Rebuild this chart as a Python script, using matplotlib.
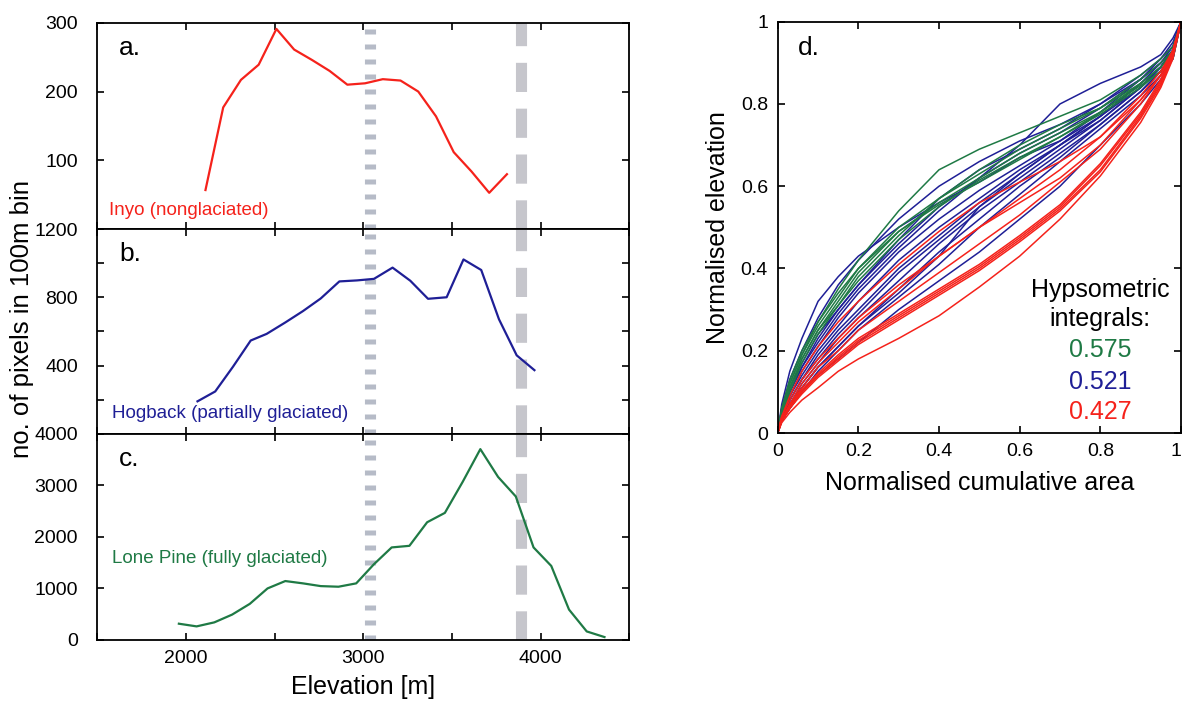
import matplotlib
matplotlib.use("Agg")
import matplotlib.pyplot as plt

plt.rcParams['font.family'] = ['Liberation Sans', 'DejaVu Sans']
plt.rcParams['lines.scale_dashes'] = False

# ---------------- elevation histograms (pixels per 100 m bin) ----------------
inyo_elev = [2110, 2210, 2310, 2410, 2510, 2610, 2710, 2810, 2910, 3010,
             3110, 3210, 3310, 3410, 3510, 3610, 3710, 3810]
inyo_count = [57, 177, 217, 239, 291, 261, 246, 230, 210, 212,
              218, 216, 200, 164, 112, 84, 53, 80]

hogback_elev = [2065, 2165, 2265, 2365, 2455, 2560, 2660, 2760, 2865, 2965,
                3060, 3165, 3265, 3365, 3470, 3565, 3665, 3765, 3865, 3965]
hogback_count = [190, 248, 393, 547, 586, 653, 720, 794, 894, 900,
                 909, 975, 898, 792, 801, 1023, 961, 672, 460, 373]

lonepine_elev = [1960, 2060, 2160, 2260, 2360, 2460, 2560, 2660, 2760, 2860,
                 2960, 3060, 3160, 3260, 3360, 3460, 3560, 3660, 3760, 3860,
                 3960, 4060, 4160, 4260, 4360]
lonepine_count = [316, 264, 342, 492, 701, 1000, 1143, 1098, 1045, 1033,
                  1098, 1469, 1795, 1826, 2283, 2465, 3064, 3701, 3162, 2783,
                  1795, 1436, 590, 166, 57]

# elevations marked by the dashed bands
band_fine = 3035
band_coarse = 3888

# ---------------- hypsometric curves ----------------
hyps_area = [0, .01, .03, .06, .1, .15, .2, .3, .4, .5, .6, .7, .8, .9, .95, .98, 1]

green_curves = [
    [0, .06, .13, .20, .27, .35, .42, .54, .64, .69, .73, .77, .81, .87, .91, .94, 1],
    [0, .05, .12, .19, .26, .33, .40, .50, .57, .63, .69, .74, .79, .86, .90, .93, 1],
    [0, .05, .11, .18, .25, .32, .39, .49, .56, .62, .68, .73, .78, .85, .89, .92, 1],
    [0, .06, .12, .19, .27, .34, .40, .49, .555, .61, .665, .72, .78, .845, .88, .91, 1],
    [0, .04, .10, .17, .24, .31, .37, .47, .55, .615, .67, .72, .775, .84, .88, .92, 1],
    [0, .05, .11, .18, .25, .31, .38, .48, .57, .64, .70, .75, .79, .85, .89, .93, 1],
]
blue_curves = [
    [0, .07, .15, .23, .32, .38, .43, .50, .56, .61, .67, .71, .78, .86, .91, .95, 1],
    [0, .05, .10, .16, .22, .29, .35, .45, .54, .62, .70, .80, .85, .89, .92, .96, 1],
    [0, .06, .13, .20, .28, .36, .42, .52, .60, .66, .71, .75, .80, .87, .91, .94, 1],
    [0, .05, .11, .17, .24, .30, .36, .46, .55, .62, .68, .73, .79, .86, .90, .94, 1],
    [0, .04, .09, .15, .21, .28, .34, .44, .52, .59, .65, .71, .77, .85, .90, .93, 1],
    [0, .04, .09, .14, .20, .26, .32, .42, .50, .57, .64, .70, .77, .85, .89, .93, 1],
    [0, .04, .08, .13, .19, .25, .30, .40, .48, .56, .63, .70, .77, .84, .89, .93, 1],
    [0, .03, .08, .13, .18, .24, .29, .39, .47, .55, .62, .69, .76, .84, .89, .93, 1],
    [0, .03, .07, .12, .17, .23, .28, .37, .46, .54, .61, .68, .75, .83, .88, .92, 1],
    [0, .03, .07, .11, .16, .21, .26, .35, .44, .52, .60, .67, .75, .83, .88, .92, 1],
    [0, .03, .06, .10, .15, .20, .25, .33, .41, .50, .58, .66, .74, .82, .87, .91, 1],
    [0, .03, .06, .10, .14, .18, .22, .30, .37, .44, .52, .60, .70, .80, .86, .91, 1],
    [0, .03, .07, .11, .16, .21, .26, .34, .43, .55, .63, .70, .76, .84, .89, .93, 1],
    [0, .05, .10, .16, .23, .30, .36, .47, .57, .64, .69, .74, .80, .86, .90, .93, 1],
]
red_curves = [
    [0, .025, .05, .08, .11, .15, .18, .23, .285, .355, .43, .52, .625, .755, .84, .91, 1],
    [0, .03, .06, .10, .14, .18, .22, .28, .34, .40, .47, .545, .64, .77, .85, .92, 1],
    [0, .03, .06, .10, .14, .185, .225, .285, .345, .405, .475, .55, .65, .775, .855, .92, 1],
    [0, .03, .065, .105, .145, .19, .23, .29, .35, .41, .48, .555, .655, .78, .86, .925, 1],
    [0, .03, .06, .095, .135, .175, .215, .275, .335, .395, .465, .54, .635, .765, .845, .915, 1],
    [0, .035, .07, .11, .16, .20, .25, .32, .39, .46, .53, .61, .69, .80, .87, .93, 1],
    [0, .04, .08, .13, .18, .23, .28, .36, .43, .50, .56, .62, .70, .81, .87, .93, 1],
    [0, .04, .09, .15, .21, .27, .32, .41, .49, .56, .61, .66, .72, .82, .88, .93, 1],
    [0, .03, .07, .12, .17, .22, .27, .35, .43, .50, .57, .64, .72, .81, .87, .93, 1],
]
hyps_integrals = ["0.575", "0.521", "0.427"]

RED = '#f5221b'
BLUE = '#1f1f96'
GREEN = '#1f7a45'

W, H = 1184, 708
fig = plt.figure(figsize=(W / 100, H / 100), dpi=100)


def px_axes(left, top, right, bottom):
    return fig.add_axes([left / W, 1 - bottom / H, (right - left) / W, (bottom - top) / H])


def style(ax, ylab_pad):
    for s in ax.spines.values():
        s.set_linewidth(1.3)
    ax.tick_params(which='both', direction='in', top=True, right=True,
                   length=5, width=1.2, labelsize=14)
    ax.tick_params(axis='y', pad=ylab_pad)
    ax.tick_params(axis='x', pad=7)


ax_a = px_axes(97.3, 22.7, 629.3, 229.3)
ax_b = px_axes(97.3, 229.3, 629.3, 433.7)
ax_c = px_axes(97.3, 433.7, 629.3, 640)
ax_d = px_axes(777.7, 21.7, 1181, 433)

panels = [
    (ax_a, inyo_elev, inyo_count, RED, 'a.', 'Inyo (nonglaciated)', (0.022, 0.093),
     300, [100, 200, 300], []),
    (ax_b, hogback_elev, hogback_count, BLUE, 'b.', 'Hogback (partially glaciated)', (0.028, 0.101),
     1200, [400, 800, 1200], [200, 600, 1000]),
    (ax_c, lonepine_elev, lonepine_count, GREEN, 'c.', 'Lone Pine (fully glaciated)', (0.028, 0.397),
     4000, [0, 1000, 2000, 3000, 4000], []),
]

for ax, xs, ys, col, letter, name, npos, ymax, majors, minors in panels:
    ax.plot(xs, ys, color=col, lw=1.6, zorder=3)
    ax.axvline(band_fine, color='#a4aaba', lw=8.0, ls=(0, (3.6, 7.2)), alpha=0.8, zorder=1)
    ax.axvline(band_coarse, color='#b3b3bb', lw=8.0, ls=(0, (21, 12)), alpha=0.75, zorder=1)
    ax.set_xlim(1500, 4500)
    ax.set_ylim(0, ymax)
    ax.set_xticks([1500, 2000, 2500, 3000, 3500, 4000, 4500])
    ax.set_yticks(majors)
    ax.set_yticks(minors, minor=True)
    style(ax, 14)
    ax.tick_params(which='minor', length=5, width=1.2)
    ax.text(0.041, 0.878, letter, transform=ax.transAxes, fontsize=19,
            ha='left', va='center')
    ax.text(npos[0], npos[1], name, transform=ax.transAxes, fontsize=13.5,
            color=col, ha='left', va='center')

ax_a.tick_params(labelbottom=False)
ax_b.tick_params(labelbottom=False)
ax_c.set_xticklabels(['', '2000', '', '3000', '', '4000', ''])
ax_c.set_xlabel('Elevation [m]', fontsize=18, labelpad=6)
fig.text(22 / W, 1 - 319 / H, 'no. of pixels in 100m bin', rotation=90,
         fontsize=18.5, ha='center', va='center')

# hypsometric curves
for curve in blue_curves:
    ax_d.plot(hyps_area, curve, color=BLUE, lw=1.1)
for curve in green_curves:
    ax_d.plot(hyps_area, curve, color=GREEN, lw=1.1)
for curve in red_curves:
    ax_d.plot(hyps_area, curve, color=RED, lw=1.1)

ax_d.set_xlim(0, 1)
ax_d.set_ylim(0, 1)
ticks = [0, 0.2, 0.4, 0.6, 0.8, 1]
labels = ['0', '0.2', '0.4', '0.6', '0.8', '1']
ax_d.set_xticks(ticks, labels)
ax_d.set_yticks(ticks, labels)
ax_d.get_xticklabels()[-1].set_horizontalalignment('right')
style(ax_d, 7)
ax_d.set_xlabel('Normalised cumulative area', fontsize=18, labelpad=8)
ax_d.set_ylabel('Normalised elevation', fontsize=18, labelpad=8)
ax_d.text(0.05, 0.936, 'd.', transform=ax_d.transAxes, fontsize=19,
          ha='left', va='center')

tx = 0.80
ax_d.text(tx, 0.348, 'Hypsometric', transform=ax_d.transAxes, fontsize=18,
          ha='center', va='center')
ax_d.text(tx, 0.277, 'integrals:', transform=ax_d.transAxes, fontsize=18,
          ha='center', va='center')
for val, col, yy in zip(hyps_integrals, [GREEN, BLUE, RED], [0.202, 0.124, 0.051]):
    ax_d.text(tx, yy, val, transform=ax_d.transAxes, fontsize=18, color=col,
              ha='center', va='center')

fig.savefig('out.png', dpi=100)
